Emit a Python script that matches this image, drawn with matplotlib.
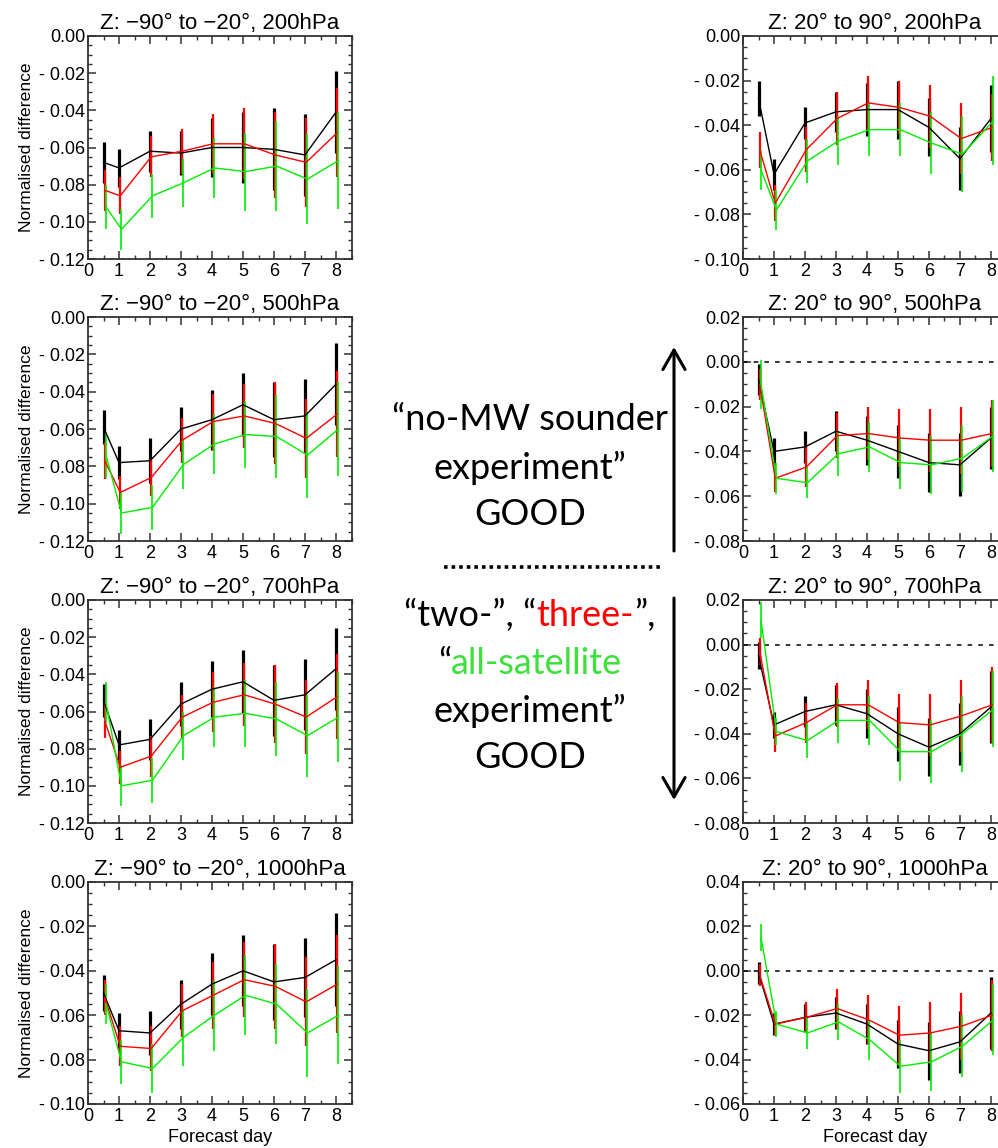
import numpy as np
import matplotlib.pyplot as plt
from matplotlib.ticker import FuncFormatter, MultipleLocator
from matplotlib.lines import Line2D
from matplotlib.patches import FancyArrowPatch

# Forecast days of the verification points
days = [0.5, 1, 2, 3, 4, 5, 6, 7, 8]

# Z, -90 to -20, 200hPa
sh200_black = [-0.068, -0.071, -0.062, -0.063, -0.060, -0.060, -0.061, -0.064, -0.041]
sh200_black_err = [0.011, 0.010, 0.011, 0.012, 0.016, 0.019, 0.022, 0.022, 0.022]
sh200_red = [-0.083, -0.086, -0.065, -0.062, -0.058, -0.058, -0.064, -0.068, -0.052]
sh200_red_err = [0.011, 0.010, 0.011, 0.012, 0.016, 0.019, 0.023, 0.024, 0.024]
sh200_green = [-0.092, -0.104, -0.086, -0.079, -0.071, -0.073, -0.070, -0.077, -0.067]
sh200_green_err = [0.012, 0.011, 0.012, 0.013, 0.016, 0.021, 0.024, 0.024, 0.026]

# Z, -90 to -20, 500hPa
sh500_black = [-0.059, -0.078, -0.077, -0.060, -0.055, -0.047, -0.055, -0.053, -0.036]
sh500_black_err = [0.009, 0.009, 0.012, 0.012, 0.016, 0.017, 0.020, 0.020, 0.022]
sh500_red = [-0.077, -0.094, -0.086, -0.066, -0.056, -0.053, -0.057, -0.065, -0.052]
sh500_red_err = [0.010, 0.009, 0.010, 0.012, 0.015, 0.017, 0.022, 0.021, 0.023]
sh500_green = [-0.074, -0.105, -0.102, -0.079, -0.068, -0.063, -0.064, -0.074, -0.060]
sh500_green_err = [0.012, 0.011, 0.012, 0.013, 0.016, 0.018, 0.022, 0.023, 0.025]

# Z, -90 to -20, 700hPa
sh700_black = [-0.054, -0.078, -0.075, -0.056, -0.048, -0.044, -0.054, -0.051, -0.037]
sh700_black_err = [0.009, 0.008, 0.011, 0.012, 0.015, 0.017, 0.019, 0.019, 0.022]
sh700_red = [-0.065, -0.090, -0.084, -0.063, -0.055, -0.051, -0.056, -0.063, -0.052]
sh700_red_err = [0.009, 0.009, 0.011, 0.012, 0.016, 0.017, 0.021, 0.020, 0.023]
sh700_green = [-0.055, -0.100, -0.097, -0.073, -0.063, -0.061, -0.064, -0.073, -0.063]
sh700_green_err = [0.011, 0.011, 0.012, 0.013, 0.016, 0.018, 0.020, 0.022, 0.024]

# Z, -90 to -20, 1000hPa
sh1000_black = [-0.050, -0.067, -0.068, -0.055, -0.046, -0.040, -0.045, -0.043, -0.035]
sh1000_black_err = [0.008, 0.008, 0.010, 0.011, 0.014, 0.016, 0.017, 0.018, 0.021]
sh1000_red = [-0.052, -0.074, -0.075, -0.058, -0.051, -0.044, -0.047, -0.054, -0.046]
sh1000_red_err = [0.008, 0.009, 0.010, 0.012, 0.015, 0.017, 0.019, 0.020, 0.022]
sh1000_green = [-0.055, -0.081, -0.084, -0.070, -0.060, -0.051, -0.055, -0.068, -0.060]
sh1000_green_err = [0.009, 0.010, 0.011, 0.013, 0.016, 0.018, 0.018, 0.020, 0.022]

# Z, 20 to 90, 200hPa
nh200_black = [-0.028, -0.062, -0.039, -0.034, -0.033, -0.033, -0.041, -0.055, -0.037]
nh200_black_err = [0.008, 0.007, 0.007, 0.009, 0.012, 0.013, 0.013, 0.014, 0.015]
nh200_red = [-0.051, -0.075, -0.051, -0.037, -0.030, -0.032, -0.036, -0.046, -0.041]
nh200_red_err = [0.008, 0.008, 0.010, 0.012, 0.012, 0.012, 0.014, 0.016, 0.015]
nh200_green = [-0.060, -0.078, -0.056, -0.047, -0.042, -0.042, -0.048, -0.053, -0.038]
nh200_green_err = [0.009, 0.009, 0.010, 0.011, 0.012, 0.012, 0.014, 0.017, 0.020]

# Z, 20 to 90, 500hPa
nh500_black = [-0.008, -0.040, -0.038, -0.031, -0.035, -0.040, -0.045, -0.046, -0.034]
nh500_black_err = [0.007, 0.006, 0.007, 0.009, 0.011, 0.012, 0.013, 0.014, 0.014]
nh500_red = [-0.010, -0.052, -0.047, -0.033, -0.032, -0.034, -0.035, -0.035, -0.032]
nh500_red_err = [0.007, 0.006, 0.009, 0.010, 0.012, 0.013, 0.014, 0.015, 0.015]
nh500_green = [-0.010, -0.052, -0.054, -0.041, -0.038, -0.045, -0.046, -0.043, -0.033]
nh500_green_err = [0.011, 0.007, 0.007, 0.010, 0.011, 0.012, 0.013, 0.015, 0.016]

# Z, 20 to 90, 700hPa
nh700_black = [-0.005, -0.036, -0.030, -0.027, -0.031, -0.040, -0.046, -0.040, -0.028]
nh700_black_err = [0.006, 0.006, 0.007, 0.009, 0.011, 0.012, 0.013, 0.014, 0.016]
nh700_red = [-0.003, -0.041, -0.035, -0.027, -0.027, -0.035, -0.036, -0.032, -0.027]
nh700_red_err = [0.006, 0.007, 0.009, 0.010, 0.011, 0.013, 0.014, 0.016, 0.017]
nh700_green = [0.011, -0.039, -0.043, -0.034, -0.034, -0.048, -0.048, -0.040, -0.029]
nh700_green_err = [0.008, 0.006, 0.008, 0.010, 0.011, 0.013, 0.014, 0.017, 0.017]

# Z, 20 to 90, 1000hPa
nh1000_black = [-0.001, -0.024, -0.021, -0.019, -0.024, -0.033, -0.036, -0.032, -0.019]
nh1000_black_err = [0.005, 0.005, 0.006, 0.007, 0.009, 0.011, 0.013, 0.014, 0.016]
nh1000_red = [-0.002, -0.024, -0.021, -0.017, -0.022, -0.029, -0.028, -0.025, -0.020]
nh1000_red_err = [0.005, 0.005, 0.007, 0.009, 0.011, 0.013, 0.014, 0.015, 0.016]
nh1000_green = [0.015, -0.024, -0.028, -0.023, -0.031, -0.043, -0.041, -0.034, -0.022]
nh1000_green_err = [0.006, 0.006, 0.007, 0.008, 0.009, 0.012, 0.013, 0.014, 0.016]

titles_left = ['Z: \u221290\u00b0 to \u221220\u00b0, 200hPa', 'Z: \u221290\u00b0 to \u221220\u00b0, 500hPa',
               'Z: \u221290\u00b0 to \u221220\u00b0, 700hPa', 'Z: \u221290\u00b0 to \u221220\u00b0, 1000hPa']
titles_right = ['Z: 20\u00b0 to 90\u00b0, 200hPa', 'Z: 20\u00b0 to 90\u00b0, 500hPa',
                'Z: 20\u00b0 to 90\u00b0, 700hPa', 'Z: 20\u00b0 to 90\u00b0, 1000hPa']
ylims_left = [(-0.12, 0.0), (-0.12, 0.0), (-0.12, 0.0), (-0.10, 0.0)]
ylims_right = [(-0.10, 0.0), (-0.08, 0.02), (-0.08, 0.02), (-0.06, 0.04)]

left_panels = [
    (sh200_black, sh200_black_err, sh200_red, sh200_red_err, sh200_green, sh200_green_err),
    (sh500_black, sh500_black_err, sh500_red, sh500_red_err, sh500_green, sh500_green_err),
    (sh700_black, sh700_black_err, sh700_red, sh700_red_err, sh700_green, sh700_green_err),
    (sh1000_black, sh1000_black_err, sh1000_red, sh1000_red_err, sh1000_green, sh1000_green_err),
]
right_panels = [
    (nh200_black, nh200_black_err, nh200_red, nh200_red_err, nh200_green, nh200_green_err),
    (nh500_black, nh500_black_err, nh500_red, nh500_red_err, nh500_green, nh500_green_err),
    (nh700_black, nh700_black_err, nh700_red, nh700_red_err, nh700_green, nh700_green_err),
    (nh1000_black, nh1000_black_err, nh1000_red, nh1000_red_err, nh1000_green, nh1000_green_err),
]

W, H = 998, 1148
plt.rcParams['font.family'] = ['Liberation Sans', 'DejaVu Sans']
fig = plt.figure(figsize=(W / 100, H / 100), dpi=100)


def fmt(v, pos):
    if v < -1e-9:
        return '- %.2f' % abs(v)
    return '%.2f' % abs(v)


def panel(x0, top, bottom, data, title, ylim, ylabel=False, xlabel=False):
    ax = fig.add_axes([x0 / W, 1 - bottom / H, 263.5 / W, (bottom - top) / H])
    x = np.array(days)
    blk, blk_e, red, red_e, grn, grn_e = data
    styles = [(blk, blk_e, 'black', 0.0, 2.3), (red, red_e, '#ff0000', 0.04, 1.6), (grn, grn_e, '#00ee00', 0.08, 1.2)]
    for y, e, c, dx, elw in styles:
        ax.errorbar(x + dx, y, yerr=e, color=c, lw=1.0, elinewidth=elw, capsize=0)
    if ylim[1] > 0:
        ax.axhline(0, color='black', lw=1.1, ls=(0, (3, 4)))
    ax.set_xlim(0, 8.5)
    ax.set_ylim(*ylim)
    ax.xaxis.set_major_locator(MultipleLocator(1))
    ax.xaxis.set_minor_locator(MultipleLocator(0.5))
    ax.yaxis.set_major_locator(MultipleLocator(0.02))
    ax.yaxis.set_minor_locator(MultipleLocator(0.005))
    ax.yaxis.set_major_formatter(FuncFormatter(fmt))
    ax.tick_params(which='both', direction='in', top=True, right=True, labelsize=13, color='#333333')
    ax.tick_params(which='major', length=6, width=1.1, pad=3)
    ax.tick_params(which='minor', length=3, width=1.0)
    ax.tick_params(axis='y', pad=2)
    for s in ax.spines.values():
        s.set_linewidth(1.3)
        s.set_color('#333333')
    ax.set_title(title, fontsize=16, pad=5)
    if ylabel:
        ax.set_ylabel('Normalised difference', fontsize=12.6, labelpad=4)
    if xlabel:
        ax.set_xlabel('Forecast day', fontsize=13, labelpad=3)
    return ax


rows = [(36, 259), (317, 541), (600, 823), (882, 1104)]
for i, (top, bottom) in enumerate(rows):
    panel(88, top, bottom, left_panels[i], titles_left[i], ylims_left[i], ylabel=True, xlabel=(i == 3))
    panel(743, top, bottom, right_panels[i], titles_right[i], ylims_right[i], xlabel=(i == 3))

# Annotation between the two columns
cfont = dict(family=['Lato', 'DejaVu Sans'], fontsize=26)
green_txt = '#3de03d'


def fy(y):
    return 1 - y / H


def rainbow(pieces, xc, y):
    # several coloured pieces laid end to end on one centred line
    arts = [fig.text(0, fy(y), s, color=c, va='center', ha='left', **cfont) for s, c in pieces]
    r = fig.canvas.get_renderer()
    widths = [a.get_window_extent(r).width for a in arts]
    xpos = xc - sum(widths) / 2
    for a, w in zip(arts, widths):
        a.set_position((xpos / W, fy(y)))
        xpos += w


def line(s, y, color='black'):
    fig.text(530 / W, fy(y), s, color=color, ha='center', va='center', **cfont)


line('\u201cno-MW sounder', 420)
line('experiment\u201d', 468)
line('GOOD', 515)
rainbow([('\u201ctwo-\u201d, \u201c', 'black'), ('three-', '#ff0000'), ('\u201d,', 'black')], 530, 615)
rainbow([('\u201c', 'black'), ('all-satellite', green_txt)], 530, 663)
line('experiment\u201d', 711)
line('GOOD', 758)

arrow = dict(arrowstyle='->,head_length=0.7,head_width=0.4', lw=2.2, color='black', mutation_scale=20,
             shrinkA=0, shrinkB=0)
fig.add_artist(FancyArrowPatch((674 / W, fy(551)), (674 / W, fy(347)), transform=fig.transFigure, **arrow))
fig.add_artist(FancyArrowPatch((674 / W, fy(598)), (674 / W, fy(800)), transform=fig.transFigure, **arrow))
fig.add_artist(Line2D([444 / W, 660 / W], [fy(567), fy(567)], transform=fig.transFigure,
                      color='black', lw=2.6, ls=(0, (1, 1.1))))

fig.savefig('out.png', dpi=100)
